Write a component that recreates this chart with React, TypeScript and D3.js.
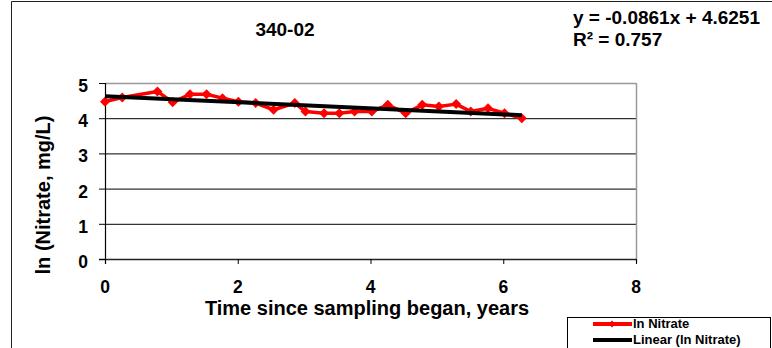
import React from "react";
import * as d3 from "d3";

const times = [0, 0.26, 0.79, 1.02, 1.28, 1.53, 1.77, 2.01, 2.27, 2.54, 2.86, 3.02, 3.3, 3.53, 3.76, 4.02, 4.26, 4.53, 4.78, 5.03, 5.29, 5.51, 5.77, 6.02, 6.28];
const lnNitrate = [4.47, 4.59, 4.76, 4.45, 4.68, 4.68, 4.57, 4.47, 4.43, 4.24, 4.43, 4.19, 4.14, 4.14, 4.19, 4.19, 4.38, 4.14, 4.38, 4.33, 4.4, 4.19, 4.28, 4.14, 4.0];
const slope = -0.0861;
const intercept = 4.6251;
const xTicks = [0, 2, 4, 6, 8];
const yTicks = [0, 1, 2, 3, 4, 5];
const chartTitle = "340-02";
const equationText = "y = -0.0861x + 4.6251";
const r2Text = "R² = 0.757";
const xTitle = "Time since sampling began, years";
const yTitle = "ln (Nitrate, mg/L)";
const seriesName = "ln Nitrate";
const trendName = "Linear (ln Nitrate)";

const FONT = "'Liberation Sans', Arial, sans-serif";

export default function App() {
  const x = d3.scaleLinear().domain([0, 8]).range([105, 636]);
  const y = d3.scaleLinear().domain([0, 5]).range([259, 83]);
  const pts = times.map((t, i) => [t, lnNitrate[i]] as [number, number]);
  const line = d3.line<[number, number]>().x((d) => x(d[0])).y((d) => y(d[1]));
  const tMax = d3.max(times) as number;
  const trend: [number, number][] = [
    [0, intercept],
    [tMax, intercept + slope * tMax],
  ];
  const diamond = (cx: number, cy: number, r: number) =>
    `M${cx},${cy - r}L${cx + r},${cy}L${cx},${cy + r}L${cx - r},${cy}Z`;

  return (
    <svg
      width={772}
      height={348}
      style={{ position: "absolute", left: 0, top: 0, background: "#fff" }}
      fontFamily={FONT}
      fontWeight="bold"
    >
      <rect x={0} y={0} width={772} height={348} fill="#fff" />
      {/* outer chart frame */}
      <path d="M11.5,348V1.5H772" fill="none" stroke="#222" strokeWidth={1} />

      {/* gridlines */}
      {yTicks.filter((v) => v > 0 && v < 5).map((v) => (
        <line key={v} x1={x(0)} x2={x(8)} y1={y(v) + 0.5} y2={y(v) + 0.5} stroke="#000" strokeWidth={1} />
      ))}
      {/* plot border top/right */}
      <line x1={x(0)} x2={x(8)} y1={y(5) + 0.5} y2={y(5) + 0.5} stroke="#999" strokeWidth={1.5} />
      <line x1={x(8) + 0.5} x2={x(8) + 0.5} y1={y(5)} y2={y(0) + 4} stroke="#999" strokeWidth={1.5} />

      {/* axes */}
      <line x1={x(0) + 0.5} x2={x(0) + 0.5} y1={y(5)} y2={y(0) + 5} stroke="#000" strokeWidth={1.2} />
      <line x1={x(0) - 6} x2={x(8)} y1={y(0) + 0.5} y2={y(0) + 0.5} stroke="#222" strokeWidth={1.5} />
      {yTicks.map((v) => (
        <g key={"yt" + v}>
          <line x1={x(0) - 6} x2={x(0)} y1={y(v) + 0.5} y2={y(v) + 0.5} stroke="#000" strokeWidth={1} />
          <text x={88} y={y(v) + 9} textAnchor="end" fontSize={17.5} fill="#000">
            {v}
          </text>
        </g>
      ))}
      {xTicks.map((v) => (
        <g key={"xt" + v}>
          <line x1={x(v) + 0.5} x2={x(v) + 0.5} y1={y(0)} y2={y(0) + 5} stroke="#000" strokeWidth={1} />
          <text x={x(v)} y={293} textAnchor="middle" fontSize={17.5} fill="#000">
            {v}
          </text>
        </g>
      ))}

      {/* data series */}
      <path d={line(pts) || ""} fill="none" stroke="#ff0000" strokeWidth={3.5} strokeLinejoin="round" />
      {pts.map((p, i) => (
        <path key={"m" + i} d={diamond(x(p[0]), y(p[1]), 5)} fill="#ff0000" />
      ))}
      {/* trendline */}
      <path d={line(trend) || ""} fill="none" stroke="#000" strokeWidth={4} />

      {/* titles */}
      <text x={285} y={36} textAnchor="middle" fontSize={19} fill="#000">
        {chartTitle}
      </text>
      <text x={573} y={24} fontSize={19} fill="#000">
        {equationText}
      </text>
      <text x={573} y={45.5} fontSize={19} fill="#000">
        {r2Text}
      </text>
      <text x={367} y={315} textAnchor="middle" fontSize={20} fill="#000">
        {xTitle}
      </text>
      <text transform="translate(50,195) rotate(-90)" textAnchor="middle" fontSize={20} fill="#000">
        {yTitle}
      </text>

      {/* legend */}
      <rect x={567.5} y={317.5} width={203} height={40} fill="#fff" stroke="#000" strokeWidth={1} />
      <line x1={593} x2={632} y1={324} y2={324} stroke="#ff0000" strokeWidth={4} />
      <path d={diamond(612, 324, 3.5)} fill="#ff0000" />
      <text x={633} y={328} fontSize={13} fill="#000">
        {seriesName}
      </text>
      <line x1={593} x2={632} y1={340} y2={340} stroke="#000" strokeWidth={4} />
      <text x={633} y={344} fontSize={13} fill="#000">
        {trendName}
      </text>
    </svg>
  );
}
